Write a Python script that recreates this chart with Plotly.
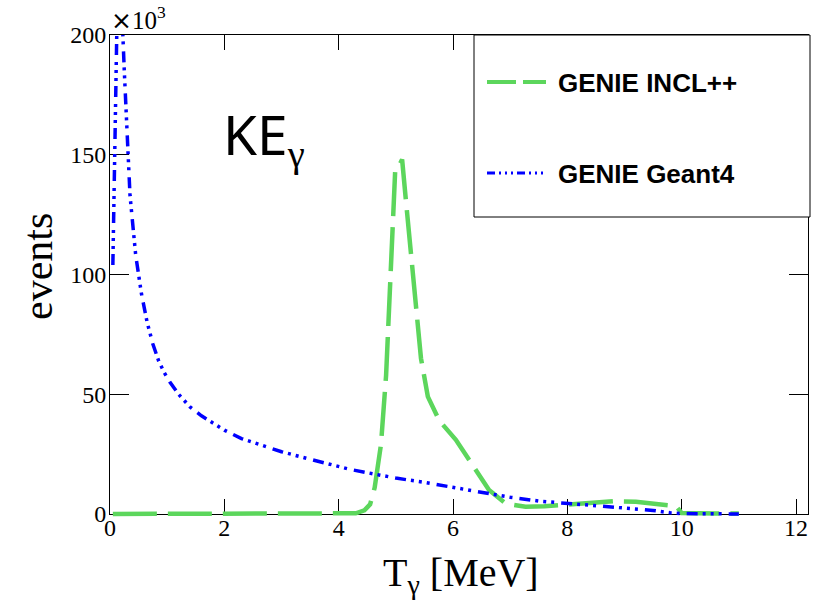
import plotly.graph_objects as go

# ---- data (values in units of 10^3 events) ----
geant4_x = [0.05, 0.15, 0.25, 0.35, 0.45, 0.55, 0.65, 0.75, 0.85, 0.95, 1.05, 1.2, 1.4,
            1.6, 1.8, 2.0, 2.3, 2.6, 3.0, 3.4, 3.8, 4.2, 4.6, 5.0, 5.5, 6.0, 6.5, 7.0,
            7.5, 8.0, 8.5, 9.0, 9.5, 9.8, 10.0, 10.5, 11.0]
geant4_y = [104, 245, 185, 133, 108, 92, 80, 71, 64, 59, 55, 50, 44.7,
            41, 38, 35, 31.5, 29, 26, 23.5, 21, 18.6, 16.8, 15, 13.2, 11.2, 9.3, 7,
            5.4, 4.4, 3.5, 2.5, 1.5, 0.5, 0.2, 0.1, 0]

incl_x = [0.05, 0.5, 1.0, 1.5, 2.0, 2.5, 3.0, 3.5, 4.0, 4.3, 4.45, 4.55, 4.63, 4.74,
          4.83, 4.89, 4.95, 4.99, 5.05, 5.11, 5.18, 5.27, 5.36, 5.44, 5.56, 5.76,
          6.05, 6.34, 6.63, 6.92, 7.27, 7.6, 8.0, 8.4, 8.8, 9.2, 9.6, 9.9, 10.0,
          10.2, 10.6, 11.0]
incl_y = [0, 0, 0, 0, 0, 0, 0, 0, 0, 0.3, 1.5, 4, 11, 29,
          58, 93, 127, 144, 145, 148, 130, 107, 84, 65, 49, 39,
          31, 20.5, 10, 4.4, 3, 3.2, 4.0, 4.8, 5.3, 5.1, 4.3, 3.3, 0.4,
          0.2, 0.2, 0.2]

x_ticks = [0, 2, 4, 6, 8, 10, 12]
y_ticks = [0, 50, 100, 150, 200]

GREEN = "#5cd65c"
BLUE = "#0000ff"
SERIF = "Liberation Serif"
SANS = "Liberation Sans"

W, H = 814, 600
# frame of the axes (pixels)
FL, FR, FT, FB = 110, 808, 35, 514
EXTRA_B = 10  # curves may draw slightly below the frame (as in ROOT)
L, R, T, B = FL, W - FR, FT, H - FB - EXTRA_B
pw, ph = W - L - R, H - T - B
Y_MAX = 200
X_MAX = 12.21
y_per_px = Y_MAX / (FB - FT)

fig = go.Figure()
# empty trace so that the framed x/y subplot (axes, ticks, labels) is created
fig.add_trace(go.Scatter(x=[], y=[], mode="lines", xaxis="x", yaxis="y",
                         showlegend=False, hoverinfo="skip"))
fig.add_trace(go.Scatter(x=incl_x, y=incl_y, mode="lines", name="GENIE INCL++",
                         xaxis="x", yaxis="y2",
                         line=dict(color=GREEN, width=4.5, dash="44px,11px")))
fig.add_trace(go.Scatter(x=geant4_x, y=geant4_y, mode="lines", name="GENIE Geant4",
                         xaxis="x", yaxis="y2",
                         line=dict(color=BLUE, width=3.5,
                                   dash="11px,5px,3px,5px,3px,5px,3px,7px")))


def px(x):
    return (x - L) / pw


def py(y):
    return (H - B - y) / ph


shapes = [
    dict(type="rect", xref="paper", yref="paper", x0=px(474), x1=px(810), y0=py(217), y1=py(35),
         line=dict(color="black", width=1), fillcolor="white", layer="above"),
    dict(type="line", xref="paper", yref="paper", x0=px(487), x1=px(546), y0=py(82), y1=py(82),
         line=dict(color=GREEN, width=4, dash="29px,7px"), layer="above"),
    dict(type="line", xref="paper", yref="paper", x0=px(487), x1=px(544), y0=py(173), y1=py(173),
         line=dict(color=BLUE, width=3, dash="8px,4px,2px,4px,2px,4px,2px,4px"), layer="above"),
]

annotations = [
    dict(text="<b>GENIE INCL++</b>", xref="paper", yref="paper", x=px(556), y=py(83),
         xanchor="left", yanchor="middle", showarrow=False,
         font=dict(family=SANS, size=26, color="black")),
    dict(text="<b>GENIE Geant4</b>", xref="paper", yref="paper", x=px(556), y=py(174),
         xanchor="left", yanchor="middle", showarrow=False,
         font=dict(family=SANS, size=26, color="black")),
    dict(text="KE<sub><span style='font-family:Liberation Serif'>γ</span></sub>",
         xref="paper", yref="paper", x=px(221), y=py(135),
         xanchor="left", yanchor="middle", showarrow=False,
         font=dict(family="Noto Sans", size=55, color="black")),
    dict(text="<span style='font-family:DejaVu Sans'>×</span>10<sup>3</sup>",
         xref="paper", yref="paper", x=px(109), y=py(37),
         xanchor="left", yanchor="bottom", showarrow=False,
         font=dict(family=SERIF, size=25, color="black")),
    dict(text="events", xref="paper", yref="paper", x=px(38), y=py(267),
         xanchor="center", yanchor="middle", textangle=-90, showarrow=False,
         font=dict(family=SERIF, size=42, color="black")),
    dict(text="T<sub>γ</sub> [MeV]", xref="paper", yref="paper", x=px(461), y=py(575),
         xanchor="center", yanchor="middle", showarrow=False,
         font=dict(family=SERIF, size=40, color="black")),
]

axis_common = dict(tickwidth=1, tickcolor="black", ticks="inside",
                   showline=True, linecolor="black", linewidth=1, mirror="ticks",
                   showgrid=False, zeroline=False,
                   tickfont=dict(family=SERIF, size=24, color="black"))

fig.update_layout(
    width=W, height=H,
    margin=dict(l=L, r=R, t=T, b=B),
    paper_bgcolor="white", plot_bgcolor="rgba(0,0,0,0)",
    showlegend=False,
    shapes=shapes, annotations=annotations,
    xaxis=dict(range=[0, X_MAX], tickvals=x_ticks, ticktext=[str(v) for v in x_ticks],
               ticklen=15, anchor="y", ticklabelstandoff=-8, **axis_common),
    yaxis=dict(range=[0, Y_MAX], tickvals=y_ticks, ticktext=[str(v) for v in y_ticks],
               domain=[EXTRA_B / ph, 1], ticklen=19, anchor="x", ticklabelstandoff=-2,
               **axis_common),
    yaxis2=dict(range=[-EXTRA_B * y_per_px, Y_MAX], domain=[0, 1], anchor="x",
                visible=False, showgrid=False, zeroline=False),
)

fig.write_html("out.html", config={"displayModeBar": False},
               post_script="document.body.style.margin='0px';")
